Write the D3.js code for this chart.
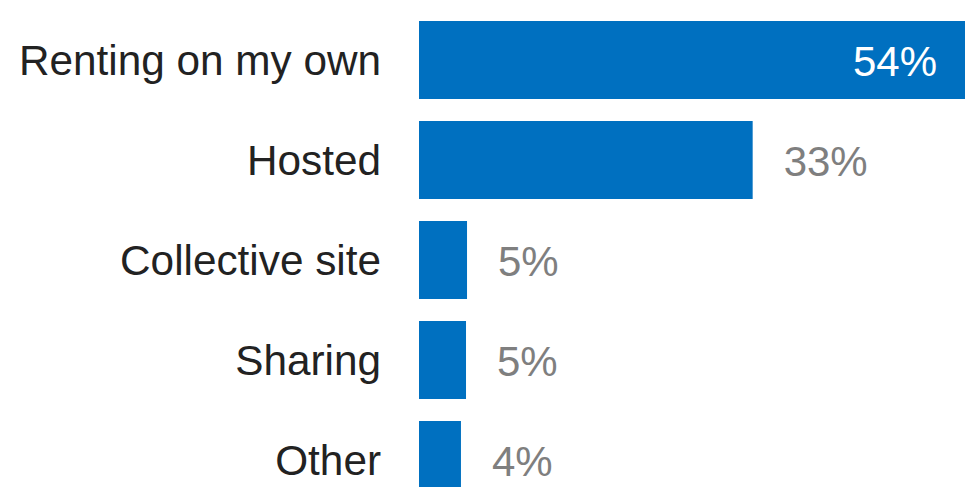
<!DOCTYPE html>
<html>
	<head>
		<meta charset="utf-8">
		<style>
			html, body { margin: 0; padding: 0; background: #fff; overflow: hidden; }
			svg { display: block; }
		</style>
	</head>
	<body>
		<script src="https://cdn.jsdelivr.net/npm/d3@7"></script>

		<div id="canvas"></div>

		<script>
			// data
			var categories = ["Renting on my own", "Hosted", "Collective site", "Sharing", "Other"];
			var shares = [54, 33, 4.75, 4.65, 4.15];
			var shareLabels = ["54%", "33%", "5%", "5%", "4%"];

			var width = 965;
			var height = 487;

			var rows = categories.map(function (c, i) {
				return { name: c, value: shares[i], label: shareLabels[i] };
			});

			var svg = d3.select("#canvas")
				.append("svg")
				.attr("width", width)
				.attr("height", height);

			var x = d3.scaleLinear()
				.domain([0, 54])
				.range([419, 965]);

			// last bar runs off the bottom edge like in the original
			var y = d3.scaleBand()
				.domain(categories)
				.range([10, 510])
				.paddingInner(0.22)
				.paddingOuter(0.11);

			svg.selectAll("rect.bar")
				.data(rows)
				.enter()
				.append("rect")
				.attr("class", "bar")
				.attr("x", x(0))
				.attr("y", function (d) { return y(d.name); })
				.attr("width", function (d) { return x(d.value) - x(0); })
				.attr("height", y.bandwidth())
				.style("fill", "#0070c0");

			// category labels
			svg.selectAll("text.cat")
				.data(rows)
				.enter()
				.append("text")
				.attr("class", "cat")
				.attr("x", 381)
				.attr("y", function (d) { return y(d.name) + y.bandwidth() / 2; })
				.attr("dy", "0.36em")
				.attr("text-anchor", "end")
				.style("font-family", "'Liberation Sans', Arial, sans-serif")
				.style("font-size", "42.3px")
				.style("fill", "#222222")
				.text(function (d) { return d.name; });

			// value labels: inside the big bar, outside the others
			svg.selectAll("text.val")
				.data(rows)
				.enter()
				.append("text")
				.attr("class", "val")
				.attr("x", function (d, i) {
					return i == 0 ? x(d.value) - 28 : x(d.value) + 31;
				})
				.attr("y", function (d) { return y(d.name) + y.bandwidth() / 2; })
				.attr("dy", "0.38em")
				.attr("text-anchor", function (d, i) { return i == 0 ? "end" : "start"; })
				.style("font-family", "'Liberation Sans', Arial, sans-serif")
				.style("font-size", "42px")
				.style("fill", function (d, i) { return i == 0 ? "#ffffff" : "#7f7f7f"; })
				.text(function (d) { return d.label; });
		</script>
	</body>
</html>
